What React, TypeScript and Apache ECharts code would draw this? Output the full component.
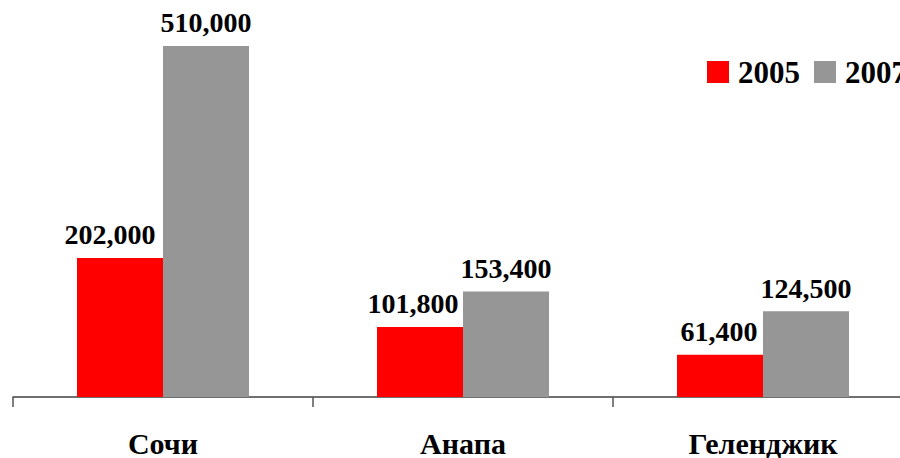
import React, { useEffect, useRef } from "react";
import * as echarts from "echarts";

const cities = ["Сочи", "Анапа", "Геленджик"];
const years = ["2005", "2007"];
const values2005 = [202000, 101800, 61400];
const values2007 = [510000, 153400, 124500];

// Horizontal nudge of the 2005 labels so wide numbers stay clear of the 2007 bar
const labelShift2005 = [-10, -7, -1];

const FONT = "Liberation Serif";

const fmt = (v: number) => v.toLocaleString("en-US");

export default function App() {
  const ref = useRef<HTMLDivElement>(null);

  useEffect(() => {
    if (!ref.current) return;
    const chart = echarts.init(ref.current, undefined, { renderer: "svg" });
    const label = {
      show: true,
      position: "top" as const,
      distance: 9,
      fontFamily: FONT,
      fontWeight: "bold" as const,
      fontSize: 28,
      color: "#000",
      formatter: (p: any) => fmt(p.value),
    };
    chart.setOption({
      animation: false,
      backgroundColor: "#fff",
      legend: {
        data: years,
        orient: "horizontal",
        left: 702,
        top: 51.5,
        width: 400,
        itemWidth: 22,
        itemHeight: 22,
        itemGap: 14,
        icon: "rect",
        textStyle: {
          fontFamily: FONT,
          fontWeight: "bold",
          fontSize: 31,
          color: "#000",
          padding: [0, 0, 0, 4],
        },
      },
      grid: {
        left: 13,
        top: 18.47,
        width: 900,
        height: 378.53,
        outerBoundsMode: "none",
        containLabel: false,
      },
      xAxis: {
        type: "category",
        data: cities,
        axisLine: { lineStyle: { color: "#404040", width: 1.5 } },
        axisTick: { show: true, length: 10, lineStyle: { color: "#555", width: 1.5 } },
        axisLabel: {
          margin: 36,
          fontFamily: FONT,
          fontWeight: "bold",
          fontSize: 30,
          lineHeight: 20,
          color: "#000",
        },
      },
      yAxis: {
        type: "value",
        min: 0,
        max: 550000,
        show: false,
        splitLine: { show: false },
      },
      series: [
        {
          name: years[0],
          type: "bar",
          data: values2005.map((v, i) => ({
            value: v,
            label: { offset: [labelShift2005[i], 0] },
          })),
          barWidth: 86,
          barGap: "0%",
          itemStyle: { color: "#ff0000" },
          label,
        },
        {
          name: years[1],
          type: "bar",
          data: values2007,
          barWidth: 86,
          barGap: "0%",
          itemStyle: { color: "#969696" },
          label,
        },
      ],
    });
    return () => chart.dispose();
  }, []);

  return (
    <div
      ref={ref}
      style={{ position: "fixed", left: 0, top: 0, width: 900, height: 458 }}
    />
  );
}
